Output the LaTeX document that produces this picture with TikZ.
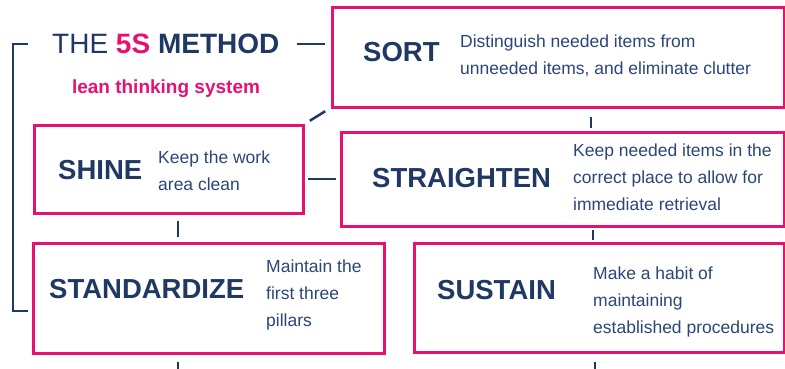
\documentclass[tikz,border=0pt]{standalone}
\usepackage{fontspec}
\setmainfont{Liberation Sans}
\definecolor{mag}{RGB}{230,18,112}
\definecolor{navy}{RGB}{31,56,100}
\definecolor{dnavy}{RGB}{44,70,120}
\tikzset{
  box/.style={draw=mag, line width=3pt, fill=white, outer sep=0pt, inner sep=0pt},
  conn/.style={draw=navy, line width=2.5pt},
  head/.style={anchor=west, inner sep=0pt, text=navy, font=\fontsize{27.5}{30}\selectfont\bfseries},
  desc/.style={anchor=west, inner sep=0pt, align=left, text=dnavy, font=\fontsize{17.5}{27}\selectfont}
}
\begin{document}
\begin{tikzpicture}[x=1pt,y=-1pt]
\useasboundingbox (0,0) rectangle (785,368);
% boxes
\node[box, minimum width=452pt, minimum height=100pt] (sort) at (558,57) {};
\node[box, minimum width=269pt, minimum height=88pt] (shine) at (168.5,169) {};
\node[box, minimum width=443pt, minimum height=94pt] (straighten) at (562.5,179) {};
\node[box, minimum width=351pt, minimum height=110pt] (standardize) at (208.5,298) {};
\node[box, minimum width=370pt, minimum height=109pt] (sustain) at (599,297.5) {};
% title
\node[anchor=west, inner sep=0pt, text=navy, font=\fontsize{28}{32}\selectfont] (title) at (52,44) {THE {\bfseries\color{mag}5S} \bfseries METHOD};
\node[inner sep=0pt, text=mag, font=\fontsize{19}{22}\selectfont\bfseries] (sub) at (166,89) {lean thinking system};
% headings
\node[head] (sortT) at (363,52) {SORT};
\node[head] (shineT) at (58,170) {SHINE};
\node[head] (straightenT) at (372,178) {STRAIGHTEN};
\node[head] (standardizeT) at (49,289) {STANDARDIZE};
\node[head] (sustainT) at (437,290) {SUSTAIN};
% descriptions
\node[desc] (sortD) at (460,56) {Distinguish needed items from\\unneeded items, and eliminate clutter};
\node[desc] (shineD) at (158,170.5) {Keep the work\\area clean};
\node[desc] (straightenD) at (573,177) {Keep needed items in the\\correct place to allow for\\immediate retrieval};
\node[desc] (standardizeD) at (266,295) {Maintain the\\first three\\pillars};
\node[desc] (sustainD) at (593,302) {Make a habit of\\maintaining\\established procedures};
% connectors
\draw[conn] ([xshift=-24pt]title.west) -- ++(-15,0) |- ([xshift=-5pt,yshift=-13pt]standardize.west);
\draw[conn, shorten <=17pt, shorten >=7pt] (title.east) -- (title.east -| sort.west);
\draw[conn, shorten <=8pt, shorten >=8pt] (shine.north east) -- (sort.south west);
\draw[conn, shorten <=5pt, shorten >=5pt] (straighten.west -| shine.east) -- (straighten.west);
\coordinate (t1) at ([xshift=259pt]sort.south west);
\draw[conn, shorten <=10pt, shorten >=4pt] (t1) -- (t1 |- straighten.north);
\coordinate (t2) at ([xshift=144pt]shine.south west);
\draw[conn, shorten <=8pt, shorten >=6pt] (t2) -- (t2 |- standardize.north);
\coordinate (t3) at ([xshift=252pt]straighten.south west);
\draw[conn, shorten <=4pt, shorten >=3pt] (t3) -- (t3 |- sustain.north);
\coordinate (b1) at ([xshift=145pt]standardize.south west);
\coordinate (b1e) at ([yshift=-20pt]b1);
\draw[conn, shorten <=9pt] (b1) -- (b1e);
\coordinate (b2) at ([xshift=181pt]sustain.south west);
\coordinate (b2e) at ([yshift=-20pt]b2);
\draw[conn, shorten <=10pt] (b2) -- (b2e);
\end{tikzpicture}
\end{document}
